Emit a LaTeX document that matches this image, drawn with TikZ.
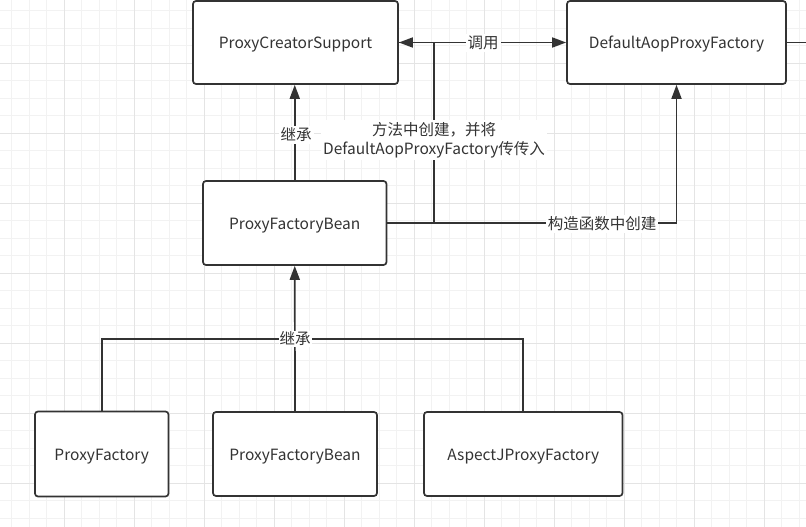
\documentclass[tikz,border=0pt]{standalone}
\usepackage{fontspec}
\setmainfont{Noto Sans CJK SC}
\usetikzlibrary{arrows.meta}
\definecolor{ink}{HTML}{333333}
\definecolor{gridminor}{HTML}{F2F2F2}
\definecolor{gridmajor}{HTML}{E4E4E4}
\tikzset{
  box/.style={draw=ink, line width=1.7pt, rounded corners=3pt, fill=white, text=ink,
    font=\fontsize{15.5}{19}\selectfont, inner sep=0pt, text height=15pt, text depth=3pt},
  lbl/.style={fill=white, text=ink, font=\fontsize{15.5}{19}\selectfont, inner sep=2pt, align=center},
  conn/.style={draw=ink, line width=1.7pt},
  arr/.style={-{Triangle[length=14pt,width=10pt]}, ink},
}
\begin{document}
\begin{tikzpicture}[x=1pt,y=-1pt]
\useasboundingbox (0,0) rectangle (806,527);
\fill[white] (0,0) rectangle (806,527);
% grid
\foreach \i in {0,...,45} \draw[gridminor, line width=1pt] ({11.8+17.5*\i},0) -- ++(0,527);
\foreach \i in {0,...,29} \draw[gridminor, line width=1pt] (0,{10.8+17.5*\i}) -- ++(806,0);
\foreach \i in {0,...,10} \draw[gridmajor, line width=1pt] ({64.3+70*\i},0) -- ++(0,527);
\foreach \i in {0,...,6} \draw[gridmajor, line width=1pt] (0,{63.3+70*\i}) -- ++(806,0);

% boxes
\node[box, minimum width=205pt, minimum height=83pt] (pcs) at (295.5,42.5) {ProxyCreatorSupport};
\node[box, minimum width=219pt, minimum height=83pt] (dapf) at (676.5,42.5) {DefaultAopProxyFactory};
\node[box, minimum width=183.5pt, minimum height=84pt] (pfb) at (294.75,223) {ProxyFactoryBean};
\node[box, minimum width=133.5pt, minimum height=85pt] (pf) at (101.75,454) {ProxyFactory};
\node[box, minimum width=164pt, minimum height=84pt] (pfb2) at (295,454) {ProxyFactoryBean};
\node[box, minimum width=198.5pt, minimum height=84pt] (aj) at (523.25,454) {AspectJProxyFactory};

% helper coordinates
\path (pcs.east) ++(35,0) coordinate (j1);
\coordinate (rimr) at (806,42.5);
\coordinate (bus) at (295,339);

% connectors
\draw[conn,arr] (pfb.north) -- (pfb.north |- pcs.south);
\draw[conn,arr] (pfb.east) -| (j1) -- (pcs.east);
\draw[conn,arr] (pcs.east) -- (dapf.west);
\draw[conn,arr] (pfb.east) -| (dapf.south);
\draw[conn] (dapf.east) -- (rimr);
\draw[conn] (pf.north) |- (bus) -| (aj.north);
\draw[conn,arr] (pfb2.north) -- (pfb.south);

% labels
\node[lbl] (l1) at (296,135) {继承};
\node[lbl] (l2) at (434,140) {方法中创建，并将\\DefaultAopProxyFactory传传入};
\node[lbl] (l3) at (483,43) {调用};
\node[lbl] (l4) at (602,224) {构造函数中创建};
\node[lbl, inner sep=1pt] (l5) at (bus) {继承};
\end{tikzpicture}
\end{document}
